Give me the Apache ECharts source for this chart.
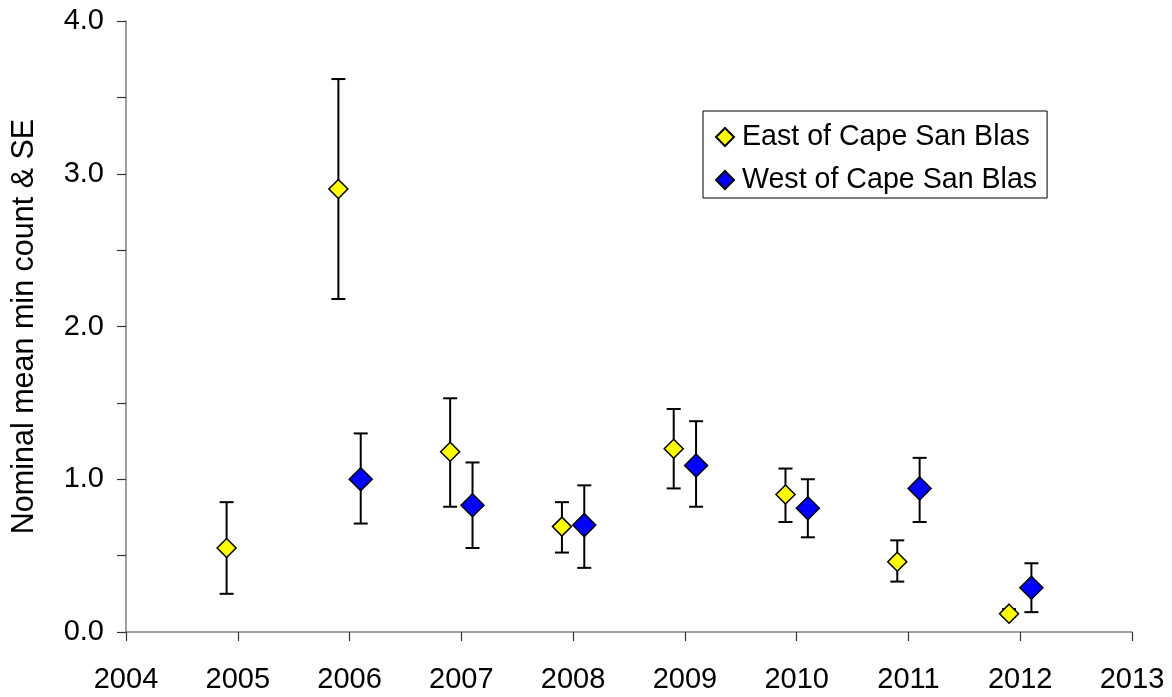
<!DOCTYPE html>
<html>
<head>
<meta charset="utf-8">
<script src="https://cdn.jsdelivr.net/npm/echarts@6/dist/echarts.min.js"></script>
<style>
  html, body { margin: 0; padding: 0; background: #fff; }
  #chart { width: 1172px; height: 697px; }
</style>
</head>
<body>
<div id="chart"></div>
<script>
// Nominal mean minimum count with standard error, by year and region
const eastYears = [2005, 2006, 2007, 2008, 2009, 2010, 2011, 2012];
const eastMean  = [0.55, 2.90, 1.18, 0.69, 1.20, 0.90, 0.46, 0.12];
const eastUpper = [0.85, 3.62, 1.53, 0.85, 1.46, 1.07, 0.60, 0.15];
const eastLower = [0.25, 2.18, 0.82, 0.52, 0.94, 0.72, 0.33, 0.10];

const westYears = [2006, 2007, 2008, 2009, 2010, 2011, 2012];
const westMean  = [1.00, 0.83, 0.70, 1.09, 0.81, 0.94, 0.29];
const westUpper = [1.30, 1.11, 0.96, 1.38, 1.00, 1.14, 0.45];
const westLower = [0.71, 0.55, 0.42, 0.82, 0.62, 0.72, 0.13];

const seriesNames = ['East of Cape San Blas', 'West of Cape San Blas'];
const yAxisTitle = 'Nominal mean min count & SE';

// the two regions are drawn side by side around each year
const EAST_SHIFT = -0.1;
const WEST_SHIFT = 0.1;

const FONT = 'Liberation Sans, Arial, sans-serif';

function points(years, vals, shift) {
  return years.map((y, i) => [y + shift, vals[i]]);
}
function bars(years, lo, hi, shift) {
  return years.map((y, i) => [y + shift, lo[i], hi[i]]);
}

function renderErrorBar(params, api) {
  const x = api.value(0);
  const lo = api.coord([x, api.value(1)]);
  const hi = api.coord([x, api.value(2)]);
  const half = 7;
  const style = { stroke: '#000', lineWidth: 2, fill: null };
  return {
    type: 'group',
    children: [
      { type: 'line', shape: { x1: lo[0], y1: lo[1], x2: hi[0], y2: hi[1] }, style },
      { type: 'line', shape: { x1: hi[0] - half, y1: hi[1], x2: hi[0] + half, y2: hi[1] }, style },
      { type: 'line', shape: { x1: lo[0] - half, y1: lo[1], x2: lo[0] + half, y2: lo[1] }, style }
    ]
  };
}

const chart = echarts.init(document.getElementById('chart'), null, { renderer: 'canvas' });

chart.setOption({
  animation: false,
  backgroundColor: '#ffffff',
  textStyle: { fontFamily: FONT },
  grid: { left: 126, right: 40, top: 21, bottom: 65, containLabel: false },
  legend: {
    data: seriesNames,
    orient: 'vertical',
    left: 703,
    top: 111,
    itemWidth: 18,
    itemHeight: 18,
    itemGap: 13,
    padding: [11, 10, 3, 12],
    borderColor: '#000',
    borderWidth: 1,
    backgroundColor: '#fff',
    icon: 'diamond',
    textStyle: {
      fontFamily: FONT, fontSize: 28.6, color: '#000', lineHeight: 30,
      padding: [0, 0, 0, 3]
    }
  },
  xAxis: {
    type: 'value',
    min: 2004,
    max: 2013,
    interval: 1,
    splitLine: { show: false },
    axisLine: { lineStyle: { color: '#808080', width: 1.5 } },
    axisTick: { inside: false, length: 9, lineStyle: { color: '#333', width: 1.2 } },
    axisLabel: {
      margin: 33,
      fontSize: 29,
      fontFamily: FONT,
      color: '#000',
      formatter: v => String(v)
    }
  },
  yAxis: {
    type: 'value',
    min: 0,
    max: 4,
    interval: 0.5,
    name: yAxisTitle,
    nameLocation: 'middle',
    nameGap: 86,
    nameTextStyle: { fontSize: 30.5, fontFamily: FONT, color: '#000' },
    splitLine: { show: false },
    axisLine: { show: true, lineStyle: { color: '#808080', width: 1.5 } },
    axisTick: { show: true, length: 9, lineStyle: { color: '#333', width: 1.2 } },
    axisLabel: {
      margin: 22,
      fontSize: 29,
      fontFamily: FONT,
      color: '#000',
      formatter: v => (Math.abs(v - Math.round(v)) < 1e-9 ? v.toFixed(1) : '')
    }
  },
  series: [
    {
      name: 'East SE',
      type: 'custom',
      renderItem: renderErrorBar,
      data: bars(eastYears, eastLower, eastUpper, EAST_SHIFT),
      encode: { x: 0, y: [1, 2] },
      z: 1,
      silent: true
    },
    {
      name: 'West SE',
      type: 'custom',
      renderItem: renderErrorBar,
      data: bars(westYears, westLower, westUpper, WEST_SHIFT),
      encode: { x: 0, y: [1, 2] },
      z: 1,
      silent: true
    },
    {
      name: seriesNames[0],
      type: 'scatter',
      symbol: 'diamond',
      symbolSize: 19,
      itemStyle: { color: '#ffff00', borderColor: '#000', borderWidth: 1.5, opacity: 1 },
      data: points(eastYears, eastMean, EAST_SHIFT),
      z: 3
    },
    {
      name: seriesNames[1],
      type: 'scatter',
      symbol: 'diamond',
      symbolSize: 23,
      itemStyle: { color: '#0000ff', borderColor: '#000', borderWidth: 1.5, opacity: 1 },
      data: points(westYears, westMean, WEST_SHIFT),
      z: 3
    }
  ]
});
</script>
</body>
</html>
